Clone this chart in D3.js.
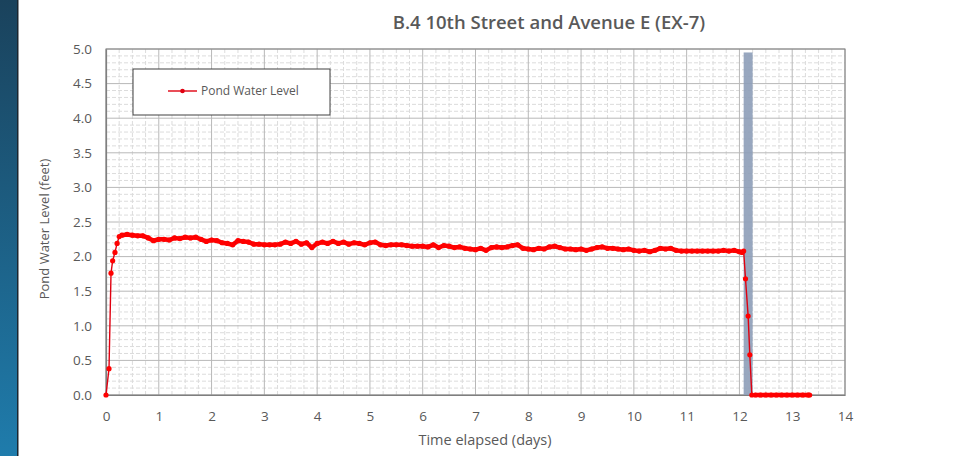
<!DOCTYPE html>
<html>
<head>
<meta charset="utf-8">
<script src="https://cdn.jsdelivr.net/npm/d3@7"></script>
<style>
  body { margin: 0; background: #fff; }
  svg { display: block; font-family: 'Open Sans', 'DejaVu Sans', sans-serif; }
</style>
</head>
<body>
<svg id="chart" width="974" height="456"></svg>
<script>
// chart text
const chartTitle = 'B.4 10th Street and Avenue E (EX-7)';
const xTitle = 'Time elapsed (days)';
const yTitle = 'Pond Water Level (feet)';
const seriesName = 'Pond Water Level';

// tick labels
const xTickValues = [0, 1, 2, 3, 4, 5, 6, 7, 8, 9, 10, 11, 12, 13, 14];
const yTickValues = [0, 0.5, 1, 1.5, 2, 2.5, 3, 3.5, 4, 4.5, 5];

// [day, feet]
const riseData = [
    [0.0, 0.0], [0.057, 0.38], [0.095, 1.76], [0.126, 1.94],
    [0.17, 2.06], [0.21, 2.19], [0.25, 2.29]
];
const plateauData = [
    [0.3, 2.31], [0.4, 2.32], [0.5, 2.31], [0.6, 2.30], [0.7, 2.30],
    [0.8, 2.27], [0.9, 2.23], [1.0, 2.25], [1.1, 2.25], [1.2, 2.24],
    [1.3, 2.27], [1.4, 2.26], [1.5, 2.28], [1.6, 2.27], [1.7, 2.28],
    [1.8, 2.25], [1.9, 2.22], [2.0, 2.24], [2.1, 2.23], [2.2, 2.20],
    [2.3, 2.19], [2.4, 2.17], [2.5, 2.23], [2.6, 2.22], [2.7, 2.21],
    [2.8, 2.18], [2.9, 2.18], [3.0, 2.17], [3.1, 2.17], [3.2, 2.17],
    [3.3, 2.18], [3.4, 2.21], [3.5, 2.19], [3.6, 2.22], [3.7, 2.18],
    [3.8, 2.20], [3.9, 2.13], [4.0, 2.19], [4.1, 2.21], [4.2, 2.19],
    [4.3, 2.22], [4.4, 2.19], [4.5, 2.21], [4.6, 2.18], [4.7, 2.20],
    [4.8, 2.19], [4.9, 2.17], [5.0, 2.20], [5.1, 2.21], [5.2, 2.17],
    [5.3, 2.16], [5.4, 2.17], [5.5, 2.17], [5.6, 2.17], [5.7, 2.16],
    [5.8, 2.15], [5.9, 2.15], [6.0, 2.15], [6.1, 2.14], [6.2, 2.17],
    [6.3, 2.13], [6.4, 2.16], [6.5, 2.15], [6.6, 2.13], [6.7, 2.14],
    [6.8, 2.12], [6.9, 2.11], [7.0, 2.10], [7.1, 2.12], [7.2, 2.09],
    [7.3, 2.13], [7.4, 2.14], [7.5, 2.13], [7.6, 2.14], [7.7, 2.16],
    [7.8, 2.17], [7.9, 2.12], [8.0, 2.11], [8.1, 2.10], [8.2, 2.12],
    [8.3, 2.11], [8.4, 2.14], [8.5, 2.15], [8.6, 2.13], [8.7, 2.11],
    [8.8, 2.11], [8.9, 2.10], [9.0, 2.11], [9.1, 2.09], [9.2, 2.11],
    [9.3, 2.13], [9.4, 2.14], [9.5, 2.12], [9.6, 2.12], [9.7, 2.11],
    [9.8, 2.10], [9.9, 2.11], [10.0, 2.09], [10.1, 2.08], [10.2, 2.09],
    [10.3, 2.07], [10.4, 2.09], [10.5, 2.12], [10.6, 2.11], [10.7, 2.12],
    [10.8, 2.09], [10.9, 2.08], [11.0, 2.08], [11.1, 2.08], [11.2, 2.08],
    [11.3, 2.08], [11.4, 2.08], [11.5, 2.08], [11.6, 2.08], [11.7, 2.09],
    [11.8, 2.08], [11.9, 2.09], [12.0, 2.07], [12.05, 2.06], [12.08, 2.08]
];
const drainData = [
    [12.115, 1.68], [12.165, 1.14], [12.197, 0.58], [12.235, 0.0]
];
const emptyData = [
    [12.3, 0.0], [12.4, 0.0], [12.5, 0.0], [12.6, 0.0], [12.7, 0.0],
    [12.8, 0.0], [12.9, 0.0], [13.0, 0.0], [13.1, 0.0], [13.2, 0.0],
    [13.3, 0.0], [13.33, 0.0]
];

// shaded period (days) and its top (feet)
const bandStart = 12.08;
const bandEnd = 12.25;
const bandTop = 4.95;

const data = riseData.concat(plateauData, drainData, emptyData);

const margin = {top: 49, right: 129, bottom: 61, left: 106};
const width = 974 - margin.left - margin.right;
const height = 456 - margin.top - margin.bottom;
const textColor = '#595959';

const svg = d3.select('#chart');

// dark blue stripe on the left edge
const defs = svg.append('defs');
const grad = defs.append('linearGradient')
    .attr('id', 'stripe')
    .attr('x1', 0).attr('y1', 0).attr('x2', 0).attr('y2', 1);
grad.append('stop').attr('offset', '0%').attr('stop-color', '#1a425c');
grad.append('stop').attr('offset', '100%').attr('stop-color', '#1f7cac');
svg.append('rect')
    .attr('x', 0).attr('y', 0)
    .attr('width', 17).attr('height', 456)
    .attr('fill', 'url(#stripe)');
svg.append('rect')
    .attr('x', 17).attr('y', 0)
    .attr('width', 1.5).attr('height', 456)
    .attr('fill', '#1b2630');

const x = d3.scaleLinear()
    .domain([0, 14])
    .range([0, width]);

const y = d3.scaleLinear()
    .domain([0, 5])
    .range([height, 0]);

const g = svg.append('g')
    .attr('transform', 'translate(' + margin.left + ',' + margin.top + ')');

// minor grid
g.append('g')
    .selectAll('line')
    .data(d3.range(0, 14.001, 0.25).filter(function(d) { return d % 1 !== 0; }))
    .enter().append('line')
    .attr('x1', function(d) { return x(d); })
    .attr('x2', function(d) { return x(d); })
    .attr('y1', 0).attr('y2', height)
    .attr('stroke', '#dcdcdc')
    .attr('stroke-dasharray', '4,2');

g.append('g')
    .selectAll('line')
    .data(d3.range(0, 50).filter(function(d) { return d % 5 !== 0; }))
    .enter().append('line')
    .attr('x1', 0).attr('x2', width)
    .attr('y1', function(d) { return y(d / 10); })
    .attr('y2', function(d) { return y(d / 10); })
    .attr('stroke', '#dcdcdc')
    .attr('stroke-dasharray', '4,2');

// major grid
g.append('g')
    .selectAll('line')
    .data(xTickValues)
    .enter().append('line')
    .attr('x1', function(d) { return x(d); })
    .attr('x2', function(d) { return x(d); })
    .attr('y1', 0).attr('y2', height)
    .attr('stroke', '#b8b8b8');

g.append('g')
    .selectAll('line')
    .data(yTickValues)
    .enter().append('line')
    .attr('x1', 0).attr('x2', width)
    .attr('y1', function(d) { return y(d); })
    .attr('y2', function(d) { return y(d); })
    .attr('stroke', '#b8b8b8');

// plot frame
g.append('rect')
    .attr('width', width)
    .attr('height', height)
    .attr('fill', 'none')
    .attr('stroke', '#808080');

// shaded band
g.append('rect')
    .attr('x', x(bandStart))
    .attr('y', y(bandTop))
    .attr('width', x(bandEnd) - x(bandStart))
    .attr('height', y(0) - y(bandTop))
    .attr('fill', '#8d9db8')
    .attr('opacity', 0.9);

// axes
const xAxis = d3.axisBottom(x)
    .tickValues(xTickValues)
    .tickSize(0)
    .tickPadding(16)
    .tickFormat(d3.format('d'));

const yAxis = d3.axisLeft(y)
    .tickValues(yTickValues)
    .tickSize(0)
    .tickPadding(14)
    .tickFormat(d3.format('.1f'));

const gx = g.append('g')
    .attr('transform', 'translate(0,' + height + ')')
    .call(xAxis);
const gy = g.append('g').call(yAxis);

[gx, gy].forEach(function(ax) {
    ax.select('.domain').attr('stroke', '#7f7f7f').attr('stroke-width', 1.2);
    ax.selectAll('text')
        .attr('fill', textColor)
        .style('font-size', '13.5px')
        .style('font-family', "'Open Sans', sans-serif");
});

// series
const line = d3.line()
    .x(function(d) { return x(d[0]); })
    .y(function(d) { return y(d[1]); });

// dense logger readings read as a thick band on the plateau and the empty tail
[plateauData, emptyData].forEach(function(part) {
    g.append('path')
        .datum(part)
        .attr('d', line)
        .attr('fill', 'none')
        .attr('stroke', '#ff0000')
        .attr('stroke-width', 4.5)
        .attr('stroke-linejoin', 'round');
});

g.append('path')
    .datum(data)
    .attr('d', line)
    .attr('fill', 'none')
    .attr('stroke', '#e00010')
    .attr('stroke-width', 1.4);

g.append('g')
    .selectAll('circle')
    .data(data)
    .enter().append('circle')
    .attr('cx', function(d) { return x(d[0]); })
    .attr('cy', function(d) { return y(d[1]); })
    .attr('r', 2.6)
    .attr('fill', '#ff0000');

// legend
const legend = svg.append('g')
    .attr('transform', 'translate(133,69)');
legend.append('rect')
    .attr('width', 197)
    .attr('height', 46)
    .attr('fill', '#fff')
    .attr('stroke', '#404040');
legend.append('line')
    .attr('x1', 35).attr('x2', 64)
    .attr('y1', 22).attr('y2', 22)
    .attr('stroke', '#e00010')
    .attr('stroke-width', 1.4);
legend.append('circle')
    .attr('cx', 49.5).attr('cy', 22)
    .attr('r', 2.3)
    .attr('fill', '#e00010');
legend.append('text')
    .attr('x', 68).attr('y', 26)
    .attr('fill', textColor)
    .style('font-size', '12px')
    .text(seriesName);

// titles
svg.append('text')
    .attr('x', 549).attr('y', 29)
    .attr('text-anchor', 'middle')
    .attr('fill', textColor)
    .style('font-size', '18.5px')
    .style('font-weight', 600)
    .text(chartTitle);

svg.append('text')
    .attr('x', 485).attr('y', 445)
    .attr('text-anchor', 'middle')
    .attr('fill', textColor)
    .style('font-size', '14.5px')
    .text(xTitle);

svg.append('text')
    .attr('transform', 'translate(49,229) rotate(-90)')
    .attr('text-anchor', 'middle')
    .attr('fill', textColor)
    .style('font-size', '13px')
    .text(yTitle);
</script>
</body>
</html>
